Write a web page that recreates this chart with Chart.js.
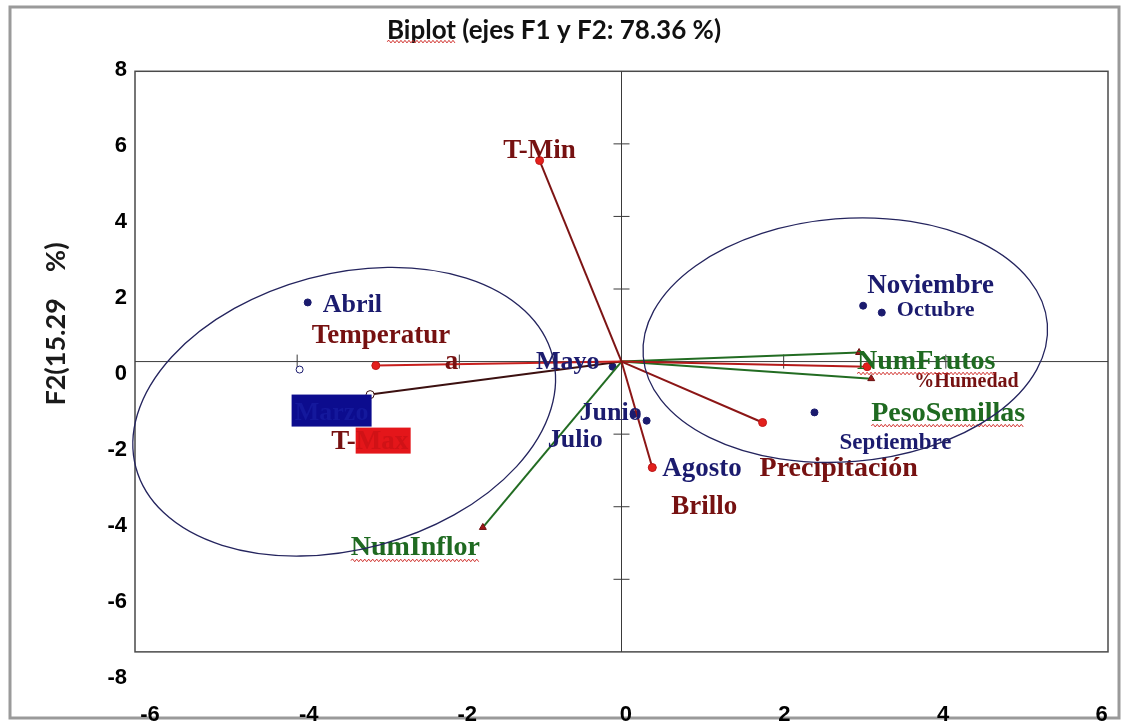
<!DOCTYPE html>
<html lang="es">
<head>
<meta charset="utf-8">
<title>Biplot (ejes F1 y F2)</title>
<script src="https://cdn.jsdelivr.net/npm/chart.js@4.4.1/dist/chart.umd.min.js"></script>
<style>
  html, body { margin: 0; padding: 0; background: #fff; }
  canvas { display: block; }
</style>
</head>
<body>
<canvas id="biplot" width="1123" height="723"></canvas>
<script>
// Observaciones (meses)
const meses = ['Marzo', 'Abril', 'Mayo', 'Junio', 'Julio', 'Agosto', 'Septiembre', 'Octubre', 'Noviembre'];
const mesesF1 = [-3.97, -3.87, -0.11, 0.31, 0.15, 0.38, 2.38, 3.21, 2.98];
const mesesF2 = [-0.22, 1.63, -0.14, -1.63, -1.45, -2.92, -1.40, 1.35, 1.54];

// Variables (vectores)
const variables = ['T-Min', 'Temperatura', 'T-Max', 'Precipitación', 'Brillo', '%Humedad', 'NumFrutos', 'PesoSemillas', 'NumInflor'];
const varF1 = [-1.01, -3.03, -3.10, 1.74, 0.38, 3.03, 2.93, 3.08, -1.71];
const varF2 = [5.54, -0.11, -0.91, -1.68, -2.92, -0.14, 0.25, -0.47, -4.57];
const varGrupo = ['clima', 'clima', 'clima', 'clima', 'clima', 'clima', 'planta', 'planta', 'planta'];

// Marcas de los ejes
const ticksF1 = [-6, -4, -2, 0, 2, 4, 6];
const ticksF2 = [-8, -6, -4, -2, 0, 2, 4, 6, 8];

// Colores
const NAVY = '#1b1b6e';
const ROJO_TXT = '#761111';
const VERDE_TXT = '#1f6a21';
const SERIF = '"Liberation Serif", "Times New Roman", serif';

const colorLinea = {
  'T-Min': '#7d1414', 'Temperatura': '#c8201e', 'T-Max': '#3c1010',
  'Precipitación': '#8c1616', 'Brillo': '#8c1616', '%Humedad': '#b51a1a',
  'NumFrutos': '#226c22', 'PesoSemillas': '#226c22', 'NumInflor': '#226c22'
};

// posición de los rótulos respecto a su punto (px)
const rotulos = {
  'Abril': { dx: 15, dy: 10, size: 26 },
  'Mayo': { dx: -13, dy: 2, size: 26, align: 'right' },
  'Junio': { dx: -5, dy: -1, size: 26, align: 'right' },
  'Julio': { dx: -31, dy: 33, size: 26, align: 'right' },
  'Agosto': { dx: 10, dy: 8, size: 27 },
  'Septiembre': { dx: 25, dy: 37, size: 23 },
  'Octubre': { dx: 15, dy: 3, size: 22 },
  'Noviembre': { dx: 4, dy: -13, size: 27 },
  'T-Min': { dx: 0, dy: -3, size: 27, align: 'center' },
  'Brillo': { dx: 19, dy: 46, size: 27 },
  'Precipitación': { dx: -3, dy: 53, size: 28 },
  '%Humedad': { dx: 47, dy: 20, size: 20 },
  'NumFrutos': { dx: -2, dy: 16, size: 28, ondas: true },
  'PesoSemillas': { dx: 0, dy: 42, size: 28, ondas: true },
  'NumInflor': { dx: -3, dy: 28, size: 28, align: 'right', ondas: true }
};

// elipses de agrupación (centro en unidades de F1/F2, semiejes en unidades de F1)
const elipses = [
  { cx: -3.42, cy: -1.38, a: 2.66, b: 1.70, giro: -15 },
  { cx: 2.76, cy: 0.59, a: 2.50, b: 1.50, giro: -4.6 }
];

function texto(ctx, str, x, y, size, color, align) {
  ctx.font = 'bold ' + size + 'px ' + SERIF;
  ctx.fillStyle = color;
  ctx.textAlign = align || 'left';
  ctx.textBaseline = 'alphabetic';
  ctx.fillText(str, x, y);
  return ctx.measureText(str).width;
}

function ondulado(ctx, x0, x1, y) {
  ctx.save();
  ctx.strokeStyle = '#d0312d';
  ctx.lineWidth = 1;
  ctx.beginPath();
  ctx.moveTo(x0, y);
  let arriba = true;
  for (let x = x0 + 2; x <= x1; x += 2) {
    ctx.lineTo(x, y + (arriba ? -1.3 : 1.3));
    arriba = !arriba;
  }
  ctx.stroke();
  ctx.restore();
}

// datasets
const datasets = [];
datasets.push({
  label: 'Meses',
  data: meses.map((m, i) => ({ x: mesesF1[i], y: mesesF2[i] })),
  showLine: false,
  pointRadius: 3.5,
  pointBorderWidth: 1,
  pointBackgroundColor: ctx => meses[ctx.dataIndex] === 'Marzo' ? '#ffffff' : NAVY,
  pointBorderColor: NAVY,
  order: 2
});
variables.forEach((v, i) => {
  const planta = varGrupo[i] === 'planta';
  datasets.push({
    label: v,
    data: [{ x: 0, y: 0 }, { x: varF1[i], y: varF2[i] }],
    showLine: true,
    borderColor: colorLinea[v],
    borderWidth: 2,
    pointRadius: [0, 4],
    pointStyle: planta ? 'triangle' : 'circle',
    pointBackgroundColor: v === 'T-Max' ? '#ffffff' : (planta ? '#a01818' : '#e3201c'),
    pointBorderColor: v === 'T-Max' ? '#3c1010' : (planta ? '#6a1010' : '#c01818'),
    pointBorderWidth: 1,
    order: 1
  });
});

const marcoPlugin = {
  id: 'marco',
  beforeDraw(chart) {
    const ctx = chart.ctx;
    ctx.save();
    ctx.strokeStyle = '#9a9a9a';
    ctx.lineWidth = 3;
    ctx.strokeRect(10, 7, chart.width - 14, chart.height - 12);
    ctx.restore();
  },
  beforeDatasetsDraw(chart) {
    const { ctx } = chart;
    const x = chart.scales.x, y = chart.scales.y;
    const x0 = x.getPixelForValue(-6), x1 = x.getPixelForValue(6);
    const y0 = y.getPixelForValue(-8), y1 = y.getPixelForValue(8);
    const cx = x.getPixelForValue(0), cy = y.getPixelForValue(0);
    ctx.save();
    ctx.strokeStyle = '#4a4a4a';
    ctx.lineWidth = 1.5;
    ctx.strokeRect(x0, y1, x1 - x0, y0 - y1);
    ctx.lineWidth = 1;
    ctx.strokeStyle = '#3a3a3a';
    ctx.beginPath();
    ctx.moveTo(x0, cy); ctx.lineTo(x1, cy);
    ctx.moveTo(cx, y1); ctx.lineTo(cx, y0);
    ticksF1.forEach(v => {
      if (v === 0 || Math.abs(v) === 6) return;
      const px = x.getPixelForValue(v);
      ctx.moveTo(px, cy - 7); ctx.lineTo(px, cy + 7);
    });
    ticksF2.forEach(v => {
      if (v === 0 || Math.abs(v) === 8) return;
      const py = y.getPixelForValue(v);
      ctx.moveTo(cx - 8, py); ctx.lineTo(cx + 8, py);
    });
    ctx.stroke();
    ctx.restore();
  },
  afterDatasetsDraw(chart) {
    const { ctx } = chart;
    const x = chart.scales.x, y = chart.scales.y;
    ctx.save();

    // rótulos de los meses
    const obs = chart.getDatasetMeta(0).data;
    meses.forEach((m, i) => {
      const p = obs[i];
      if (m === 'Marzo') {
        const bx = p.x - 8, by = p.y + 25;
        ctx.fillStyle = '#0c0c8e';
        ctx.fillRect(bx, by, 80, 32);
        texto(ctx, m, bx + 40, by + 25, 26, '#14189c', 'center');
        return;
      }
      const r = rotulos[m];
      texto(ctx, m, p.x + r.dx, p.y + r.dy, r.size, NAVY, r.align);
    });

    // rótulos de las variables
    variables.forEach((v, i) => {
      const p = chart.getDatasetMeta(i + 1).data[1];
      const color = varGrupo[i] === 'planta' ? VERDE_TXT : ROJO_TXT;
      if (v === 'Temperatura') {
        texto(ctx, 'Temperatur', p.x - 64, p.y - 23, 27, color);
        texto(ctx, 'a', p.x + 69, p.y + 3, 27, color);
        return;
      }
      if (v === 'T-Max') {
        const w = texto(ctx, 'T-', p.x - 39, p.y + 54, 27, color);
        ctx.fillStyle = '#e4161a';
        ctx.fillRect(p.x - 39 + w, p.y + 33, 55, 26);
        texto(ctx, 'Max', p.x - 39 + w, p.y + 54, 27, '#d01216');
        return;
      }
      const r = rotulos[v];
      const tx = p.x + r.dx, ty = p.y + r.dy;
      const w = texto(ctx, v, tx, ty, r.size, color, r.align);
      if (r.ondas) {
        const left = r.align === 'right' ? tx - w : tx;
        ondulado(ctx, left, left + w, ty + 5);
      }
    });

    // elipses
    const k = x.getPixelForValue(1) - x.getPixelForValue(0);
    ctx.strokeStyle = '#24245e';
    ctx.lineWidth = 1.3;
    elipses.forEach(e => {
      ctx.beginPath();
      ctx.ellipse(x.getPixelForValue(e.cx), y.getPixelForValue(e.cy), e.a * k, e.b * k,
        e.giro * Math.PI / 180, 0, Math.PI * 2);
      ctx.stroke();
    });

    // título del eje F2
    ctx.translate(56, 324);
    ctx.rotate(-Math.PI / 2);
    ctx.font = 'bold 27px Lato, "Open Sans", sans-serif';
    ctx.fillStyle = '#1a1a1a';
    ctx.textAlign = 'center';
    ctx.textBaseline = 'middle';
    ctx.fillText('F2(15.29    %)', 0, 0);
    ctx.restore();
  },
  afterDraw(chart) {
    // subrayado ondulado bajo "Biplot"
    const t = chart.titleBlock;
    const f = chart.options.plugins.title.font;
    const ctx = chart.ctx;
    ctx.save();
    ctx.font = f.weight + ' ' + f.size + 'px ' + f.family;
    const full = ctx.measureText(chart.options.plugins.title.text).width;
    const bw = ctx.measureText('Biplot').width;
    const cx = (t.left + t.right) / 2;
    const cy = t.top + 14 + f.size * 0.6;
    ondulado(ctx, cx - full / 2, cx - full / 2 + bw, cy + 12);
    ctx.restore();
  }
};

const fuenteTicks = { family: '"Liberation Sans", Arial, sans-serif', weight: 'bold', size: 22 };

new Chart(document.getElementById('biplot'), {
  type: 'scatter',
  data: { datasets },
  options: {
    responsive: false,
    animation: false,
    layout: { padding: { left: 0, right: 15, top: 0, bottom: 0 } },
    plugins: {
      legend: { display: false },
      tooltip: { enabled: false },
      title: {
        display: true,
        text: 'Biplot (ejes F1 y F2: 78.36 %)',
        color: '#111',
        font: { family: 'Lato, "Open Sans", sans-serif', weight: 'bold', size: 26 },
        padding: { top: 15, bottom: 24 }
      }
    },
    scales: {
      x: { type: 'linear', min: -6, max: 6, display: false },
      y: { type: 'linear', min: -8.72, max: 8.03, display: false },
      xl: {
        type: 'linear', position: 'bottom', min: -6.19, max: 6.08,
        afterBuildTicks: s => { s.ticks = ticksF1.map(v => ({ value: v })); },
        afterFit: s => { s.height = 45; },
        grid: { display: true, drawOnChartArea: false, drawTicks: true, tickLength: 24, color: 'rgba(0,0,0,0)' },
        border: { display: false },
        ticks: { font: fuenteTicks, color: '#000', padding: 0, maxRotation: 0, autoSkip: false }
      },
      yl: {
        type: 'linear', position: 'left', min: -8, max: 8,
        afterBuildTicks: s => { s.ticks = ticksF2.map(v => ({ value: v })); },
        afterFit: s => { s.width = 135; },
        grid: { display: false, drawTicks: false },
        border: { display: false },
        ticks: { font: fuenteTicks, color: '#000', padding: 8, autoSkip: false }
      }
    }
  },
  plugins: [marcoPlugin]
});
</script>
</body>
</html>
